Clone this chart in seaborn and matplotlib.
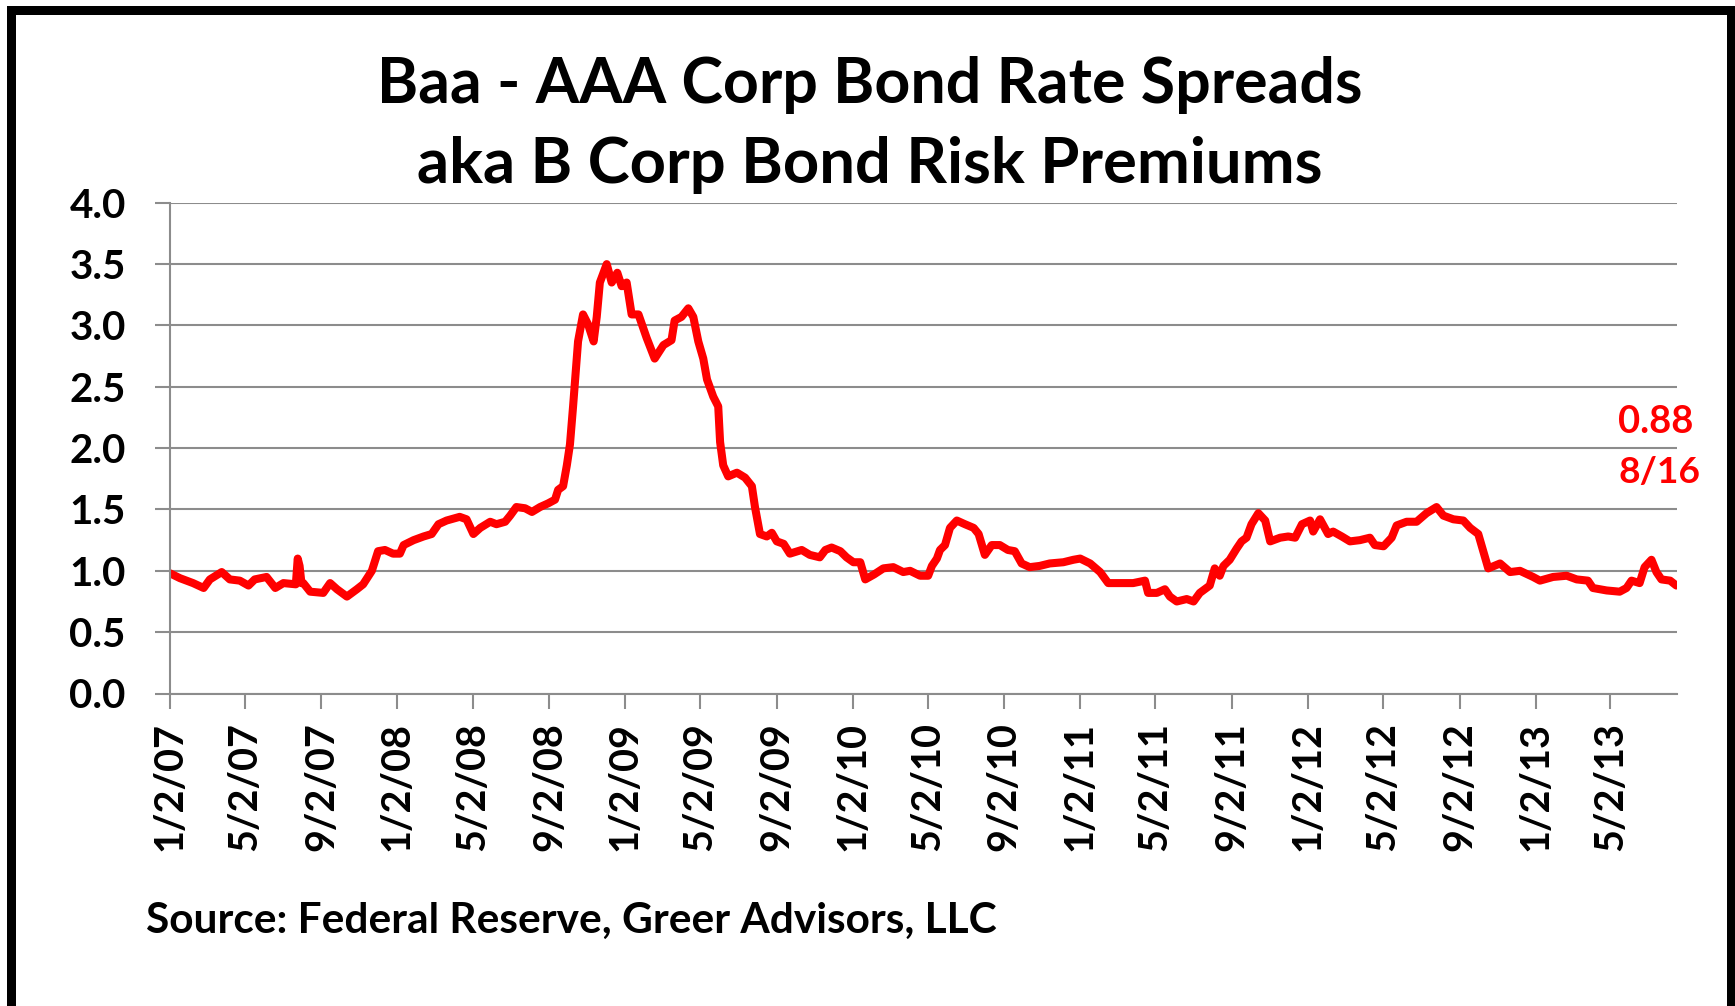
import matplotlib
matplotlib.use("Agg")
import matplotlib.pyplot as plt
from matplotlib.patches import Rectangle
import seaborn as sns
import pandas as pd

# ---------------- data ----------------
start_date = "2007-01-02"
# days after start_date at which the spread was read
day_offsets = [
    0, 16, 37, 54, 64, 83, 96, 112, 126, 136, 155, 169, 182, 202, 205, 208, 211, 214,
    225, 246, 257, 268, 284, 300, 310, 324, 334, 345, 358, 369, 375, 391, 407, 420,
    431, 444, 465, 476, 487, 498, 514, 524, 538, 546, 556, 570, 581, 594, 607, 618,
    623, 631, 637, 642, 647, 652, 655, 663, 671, 680, 685, 690, 701, 709, 718, 725,
    733, 741, 752, 765, 778, 792, 805, 810, 821, 832, 840, 848, 856, 862, 872, 880,
    883, 888, 896, 910, 923, 934, 939, 947, 958, 966, 974, 985, 995, 1014, 1027, 1043,
    1052, 1062, 1076, 1086, 1097, 1108, 1116, 1130, 1145, 1161, 1177, 1188, 1204, 1217,
    1223, 1231, 1236, 1244, 1252, 1263, 1276, 1290, 1298, 1308, 1319, 1332, 1345, 1356,
    1367, 1380, 1396, 1412, 1434, 1450, 1461, 1477, 1493, 1506, 1525, 1546, 1565, 1570,
    1584, 1597, 1605, 1616, 1632, 1643, 1653, 1669, 1677, 1685, 1691, 1701, 1712, 1720,
    1728, 1736, 1747, 1758, 1766, 1782, 1795, 1806, 1817, 1830, 1835, 1846, 1859, 1867,
    1881, 1894, 1910, 1926, 1934, 1948, 1961, 1969, 1985, 2001, 2017, 2033, 2044, 2060,
    2076, 2087, 2100, 2108, 2116, 2135, 2151, 2167, 2188, 2199, 2220, 2242, 2258, 2276,
    2284, 2306, 2327, 2338, 2346, 2359, 2367, 2378, 2386, 2394, 2408, 2418,
]
spread = [
    0.98, 0.94, 0.90, 0.86, 0.93, 0.99, 0.93, 0.92, 0.88, 0.93, 0.95, 0.86, 0.90, 0.89, 1.10, 1.04, 0.90, 0.90,
    0.83, 0.82, 0.90, 0.85, 0.79, 0.85, 0.89, 1.00, 1.16, 1.17, 1.14, 1.14, 1.21, 1.25, 1.28, 1.30,
    1.38, 1.41, 1.44, 1.42, 1.30, 1.35, 1.40, 1.38, 1.40, 1.45, 1.52, 1.51, 1.48, 1.52, 1.55, 1.58,
    1.66, 1.69, 1.86, 2.03, 2.34, 2.67, 2.87, 3.09, 3.01, 2.87, 3.07, 3.35, 3.50, 3.35, 3.43, 3.32,
    3.35, 3.09, 3.09, 2.90, 2.73, 2.84, 2.88, 3.04, 3.07, 3.14, 3.07, 2.87, 2.73, 2.56, 2.42, 2.34,
    2.05, 1.86, 1.77, 1.80, 1.76, 1.69, 1.52, 1.30, 1.28, 1.31, 1.24, 1.22, 1.14, 1.17, 1.13, 1.11,
    1.17, 1.19, 1.16, 1.11, 1.07, 1.07, 0.93, 0.97, 1.02, 1.03, 0.99, 1.00, 0.96, 0.96,
    1.04, 1.10, 1.17, 1.21, 1.35, 1.41, 1.38, 1.35, 1.30, 1.13, 1.21, 1.21, 1.17, 1.16,
    1.06, 1.03, 1.04, 1.06, 1.07, 1.09, 1.10, 1.06, 0.99, 0.90, 0.90, 0.90, 0.92, 0.82,
    0.82, 0.85, 0.79, 0.75, 0.77, 0.75, 0.82, 0.88, 1.02, 0.96, 1.04, 1.09, 1.18, 1.24,
    1.27, 1.38, 1.47, 1.41, 1.24, 1.27, 1.28, 1.27, 1.38, 1.41, 1.32, 1.42, 1.30, 1.32,
    1.28, 1.24, 1.25, 1.27, 1.21, 1.20, 1.27, 1.37, 1.40, 1.40, 1.47, 1.52, 1.45, 1.42,
    1.41, 1.35, 1.30, 1.16, 1.02, 1.06, 0.99, 1.00, 0.95, 0.92, 0.95, 0.96, 0.93, 0.92,
    0.86, 0.84, 0.83, 0.86, 0.92, 0.90, 1.03, 1.09, 0.99, 0.93, 0.92, 0.88,
]
x_tick_labels = ["1/2/07", "5/2/07", "9/2/07", "1/2/08", "5/2/08", "9/2/08", "1/2/09",
                 "5/2/09", "9/2/09", "1/2/10", "5/2/10", "9/2/10", "1/2/11", "5/2/11",
                 "9/2/11", "1/2/12", "5/2/12", "9/2/12", "1/2/13", "5/2/13"]
y_ticks = [0.0, 0.5, 1.0, 1.5, 2.0, 2.5, 3.0, 3.5, 4.0]
end_date = "2013-08-17"
title_lines = ["Baa - AAA Corp Bond Rate Spreads", "aka B Corp Bond Risk Premiums"]
source_text = "Source: Federal Reserve, Greer Advisors, LLC"
last_value_label = "0.88"
last_date_label = "8/16"

# ---------------- build frame ----------------
dates = pd.Timestamp(start_date) + pd.to_timedelta(day_offsets, unit="D")
df = pd.DataFrame({"date": dates, "spread": spread})
tick_dates = pd.to_datetime(x_tick_labels, format="%m/%d/%y")

sns.set_style("white")
plt.rcParams["font.family"] = ["Lato", "DejaVu Sans"]

W, H = 1735, 1006
fig = plt.figure(figsize=(W / 100, H / 100), dpi=100)
fig.patch.set_facecolor("white")

ax_top, ax_bot = 202.8, 693.5
ax = fig.add_axes([170 / W, 1 - ax_bot / H, (1677 - 170) / W, (ax_bot - ax_top) / H])

grid_c = "#8c8c8c"
sns.lineplot(data=df, x="date", y="spread", color="#ff0000", linewidth=5.8,
             ax=ax, solid_joinstyle="round", solid_capstyle="round")

ax.set_xlim(pd.Timestamp(start_date), pd.Timestamp(end_date))
ax.set_ylim(0, 4.0)
ax.set_xlabel("")
ax.set_ylabel("")

ax.set_yticks(y_ticks, [f"{v:.1f}" for v in y_ticks], fontsize=29, fontweight="bold")
ax.set_xticks(tick_dates, x_tick_labels, fontsize=28.5, fontweight="bold", rotation=90)

ax.yaxis.grid(True, color=grid_c, linewidth=1.5)
ax.xaxis.grid(False)
ax.set_axisbelow(True)
for s in ["top", "right"]:
    ax.spines[s].set_visible(False)
for s in ["left", "bottom"]:
    ax.spines[s].set_visible(True)
    ax.spines[s].set_color(grid_c)
    ax.spines[s].set_linewidth(1.5)

ax.tick_params(axis="y", direction="out", length=10.8, width=1.5, color=grid_c,
               pad=21, left=True)
ax.tick_params(axis="x", direction="out", length=10.8, width=1.5, color=grid_c,
               pad=10, bottom=True)
for lbl in ax.get_yticklabels() + ax.get_xticklabels():
    lbl.set_color("black")

# ---------------- texts ----------------
t1 = fig.text(870 / W, 1 - 103.3 / H, title_lines[0], ha="center", va="baseline",
              fontsize=42, fontweight="bold", color="black")
t2 = fig.text(870 / W, 1 - 182.5 / H, title_lines[1], ha="center", va="baseline",
              fontsize=42, fontweight="bold", color="black")
src = fig.text(146 / W, 1 - 933 / H, source_text, ha="left", va="baseline",
               fontsize=30, fontweight="bold", color="black")
a1 = fig.text(1618 / W, 1 - 433 / H, last_value_label, ha="left", va="baseline",
              fontsize=26, fontweight="bold", color="#ff0000")
a2 = fig.text(1618 / W, 1 - 483 / H, last_date_label, ha="left", va="baseline",
              fontsize=26, fontweight="bold", color="#ff0000")

fig.canvas.draw()
r = fig.canvas.get_renderer()
for t, target in [(t1, 985), (t2, 907), (src, 848), (a1, 75), (a2, 82)]:
    w = t.get_window_extent(r).width
    t.set_fontsize(t.get_fontsize() * target / w)

# outer black frame
lw_px = 9
fig.add_artist(Rectangle((11 / W, 1 - 1007.5 / H), 1720 / W, 998 / H,
                         transform=fig.transFigure, fill=False,
                         edgecolor="black", linewidth=lw_px * 0.72, clip_on=False))

fig.savefig("out.png", dpi=100, facecolor="white")
